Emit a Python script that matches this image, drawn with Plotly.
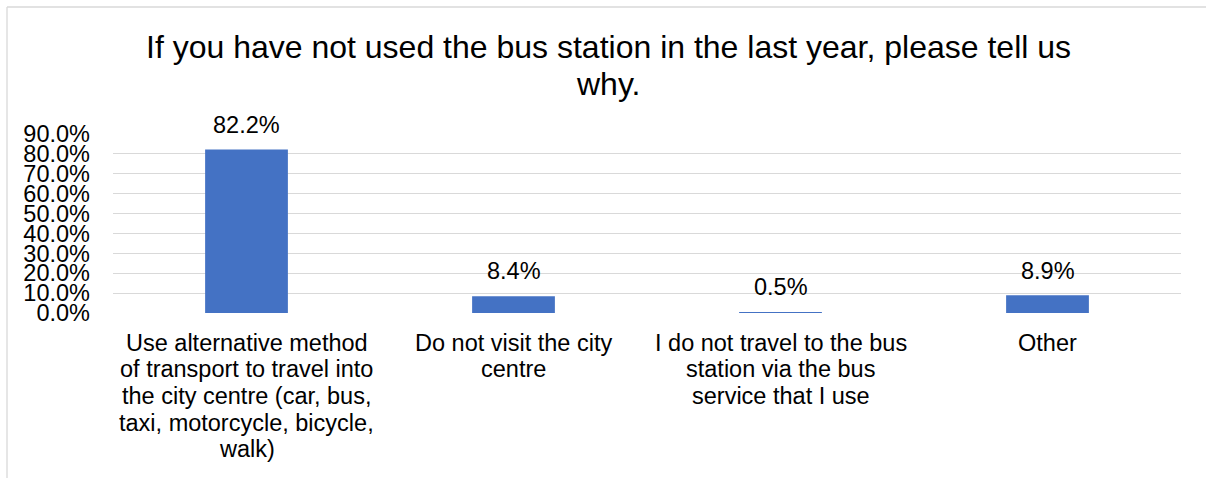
import plotly.graph_objects as go

# Survey responses: reasons for not using the bus station
category_lines = [
    ["Use alternative method", "of transport to travel into", "the city centre (car, bus,",
     "taxi, motorcycle, bicycle,", "walk)"],
    ["Do not visit the city", "centre"],
    ["I do not travel to the bus", "station via the bus", "service that I use"],
    ["Other"],
]
categories = [" ".join(lines) for lines in category_lines]
shares = [0.822, 0.084, 0.005, 0.089]
value_labels = ["82.2%", "8.4%", "0.5%", "8.9%"]
y_ticks = [0.0, 0.1, 0.2, 0.3, 0.4, 0.5, 0.6, 0.7, 0.8, 0.9]
tick_labels = ["0.0%", "10.0%", "20.0%", "30.0%", "40.0%", "50.0%", "60.0%", "70.0%", "80.0%", "90.0%"]
title_lines = ["If you have not used the bus station in the last year, please tell us", "why."]

FONT = "Liberation Sans, Arial, sans-serif"
W, H = 1206, 478
ML, MR, MT, MB = 113, 25, 134, 165
PW = W - ML - MR
PH = H - MT - MB

fig = go.Figure(
    go.Bar(
        x=categories,
        y=shares,
        marker=dict(color="#4472C4", line=dict(width=0)),
        hoverinfo="skip",
    )
)

annotations = []

# value labels above each bar
for cat, val, lab in zip(categories, shares, value_labels):
    annotations.append(dict(
        x=cat, y=val, xref="x", yref="y", text=lab, showarrow=False,
        xanchor="center", yanchor="middle", yshift=24.8,
        font=dict(family=FONT, size=23.5, color="#000000"),
    ))

# wrapped category labels, one annotation per line for tight line spacing
cat_line_step = 26.67
first_center = 342.5
for cat, lines in zip(categories, category_lines):
    for k, line in enumerate(lines):
        center_px = first_center + k * cat_line_step
        annotations.append(dict(
            x=cat, y=0, xref="x", yref="paper", text=line, showarrow=False,
            xanchor="center", yanchor="middle", yshift=-(center_px - (MT + PH)),
            font=dict(family=FONT, size=23.5, color="#000000"),
        ))

# two-line title
title_x = (608 - ML) / PW
for k, line in enumerate(title_lines):
    center_px = 47.1 + k * 36.7
    annotations.append(dict(
        x=title_x, y=1, xref="paper", yref="paper", text=line, showarrow=False,
        xanchor="center", yanchor="middle", yshift=MT - center_px,
        font=dict(family=FONT, size=32, color="#000000"),
    ))

# chart-area outline (top and left edges)
bx = (7 - ML) / PW
by = 1 + (MT - 7) / PH
shapes = [
    dict(type="line", xref="paper", yref="paper", x0=bx, x1=(W + 5 - ML) / PW, y0=by, y1=by,
         line=dict(color="#D9D9D9", width=1.3)),
    dict(type="line", xref="paper", yref="paper", x0=bx, x1=bx, y0=by, y1=-(MB + 5) / PH,
         line=dict(color="#D9D9D9", width=1.3)),
]

fig.update_layout(
    width=W, height=H,
    margin=dict(l=ML, r=MR, t=MT, b=MB, pad=0),
    paper_bgcolor="white", plot_bgcolor="white",
    bargap=0.69,
    showlegend=False,
    font=dict(family=FONT, size=23.5, color="#000000"),
    annotations=annotations,
    shapes=shapes,
    xaxis=dict(showticklabels=False, showgrid=False, zeroline=False, showline=False, ticks=""),
    yaxis=dict(
        range=[0, 0.9], tickvals=y_ticks, ticktext=tick_labels,
        showgrid=True, gridcolor="#D9D9D9", gridwidth=1.3,
        zeroline=False, showline=False, ticks="",
        ticklabelstandoff=22,
        tickfont=dict(family=FONT, size=23.5, color="#000000"),
    ),
)

fig.write_html("out.html")
